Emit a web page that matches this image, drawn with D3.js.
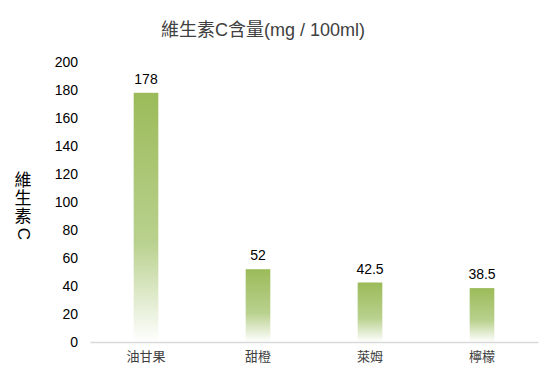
<!DOCTYPE html>
<html>
<head>
<meta charset="utf-8">
<script src="https://cdn.jsdelivr.net/npm/d3@7/dist/d3.min.js"></script>
<style>
  body { margin: 0; background: #fff; }
  svg { display: block; font-family: "Liberation Sans", Arial, "Noto Sans CJK TC", sans-serif; }
</style>
</head>
<body>
<svg id="chart" width="554" height="384"></svg>
<script>
const categories = ["油甘果", "甜橙", "萊姆", "檸檬"];
const values = [178, 52, 42.5, 38.5];
const valueLabels = ["178", "52", "42.5", "38.5"];
const yTicks = [0, 20, 40, 60, 80, 100, 120, 140, 160, 180, 200];
const titleText = "維生素C含量(mg / 100ml)";
const yTitleChars = ["維", "生", "素", "C"];

const svg = d3.select("#chart");
const margin = { left: 90, right: 16, top: 62, bottom: 42 };
const W = 554, H = 384;

const x = d3.scaleBand()
  .domain(categories)
  .range([margin.left, W - margin.right])
  .paddingInner(0.78)
  .paddingOuter(0.39);

const y = d3.scaleLinear()
  .domain([0, 200])
  .range([H - margin.bottom, margin.top]);

// Vertical fade for bars: green at top, white at the base
const defs = svg.append("defs");
const grad = defs.append("linearGradient")
  .attr("id", "barFade")
  .attr("x1", 0).attr("y1", 0).attr("x2", 0).attr("y2", 1);
grad.append("stop").attr("offset", "0%").attr("stop-color", "#9bbb59");
grad.append("stop").attr("offset", "60%").attr("stop-color", "#b9d18e");
grad.append("stop").attr("offset", "100%").attr("stop-color", "#ffffff");

// Title
svg.append("text")
  .attr("x", 263).attr("y", 36)
  .attr("text-anchor", "middle")
  .attr("font-size", 18)
  .attr("fill", "#404040")
  .text(titleText);

// Y axis tick labels
const yAxis = d3.axisLeft(y).tickValues(yTicks).tickSize(0).tickPadding(12);
const gy = svg.append("g")
  .attr("transform", `translate(${margin.left},0)`)
  .call(yAxis);
gy.select(".domain").remove();
gy.selectAll("text")
  .attr("font-size", 14)
  .attr("fill", "#000")
  .style("font-family", "'Liberation Sans', Arial, sans-serif");

// Y axis title, stacked vertically; Latin letter rotated
const yTitle = svg.append("g").attr("class", "y-title");
yTitleChars.forEach((ch, i) => {
  const cy = 180 + i * 18;
  const t = yTitle.append("text")
    .attr("x", 23).attr("y", cy)
    .attr("text-anchor", "middle")
    .attr("dominant-baseline", "central")
    .attr("font-size", 17)
    .attr("fill", "#000")
    .text(ch);
  if (/[A-Za-z]/.test(ch)) t.attr("transform", `rotate(90,23,${cy})`);
});

// Bars
svg.append("g").selectAll("rect")
  .data(values)
  .join("rect")
  .attr("x", (d, i) => x(categories[i]))
  .attr("y", d => y(d))
  .attr("width", x.bandwidth())
  .attr("height", d => y(0) - y(d))
  .attr("fill", "url(#barFade)");

// Value labels
svg.append("g").selectAll("text")
  .data(values)
  .join("text")
  .attr("x", (d, i) => x(categories[i]) + x.bandwidth() / 2)
  .attr("y", d => y(d) - 9)
  .attr("text-anchor", "middle")
  .attr("font-size", 14)
  .attr("fill", "#000")
  .text((d, i) => valueLabels[i]);

// X axis baseline and category labels
const xAxis = d3.axisBottom(x).tickSize(0).tickPadding(10);
const gx = svg.append("g")
  .attr("transform", `translate(0,${y(0)})`)
  .call(xAxis);
gx.select(".domain").attr("stroke", "#d9d9d9").attr("stroke-width", 1.5);
gx.selectAll("text")
  .attr("font-size", 13)
  .attr("fill", "#404040")
  .style("font-family", "'Noto Sans CJK TC', sans-serif");
</script>
</body>
</html>
